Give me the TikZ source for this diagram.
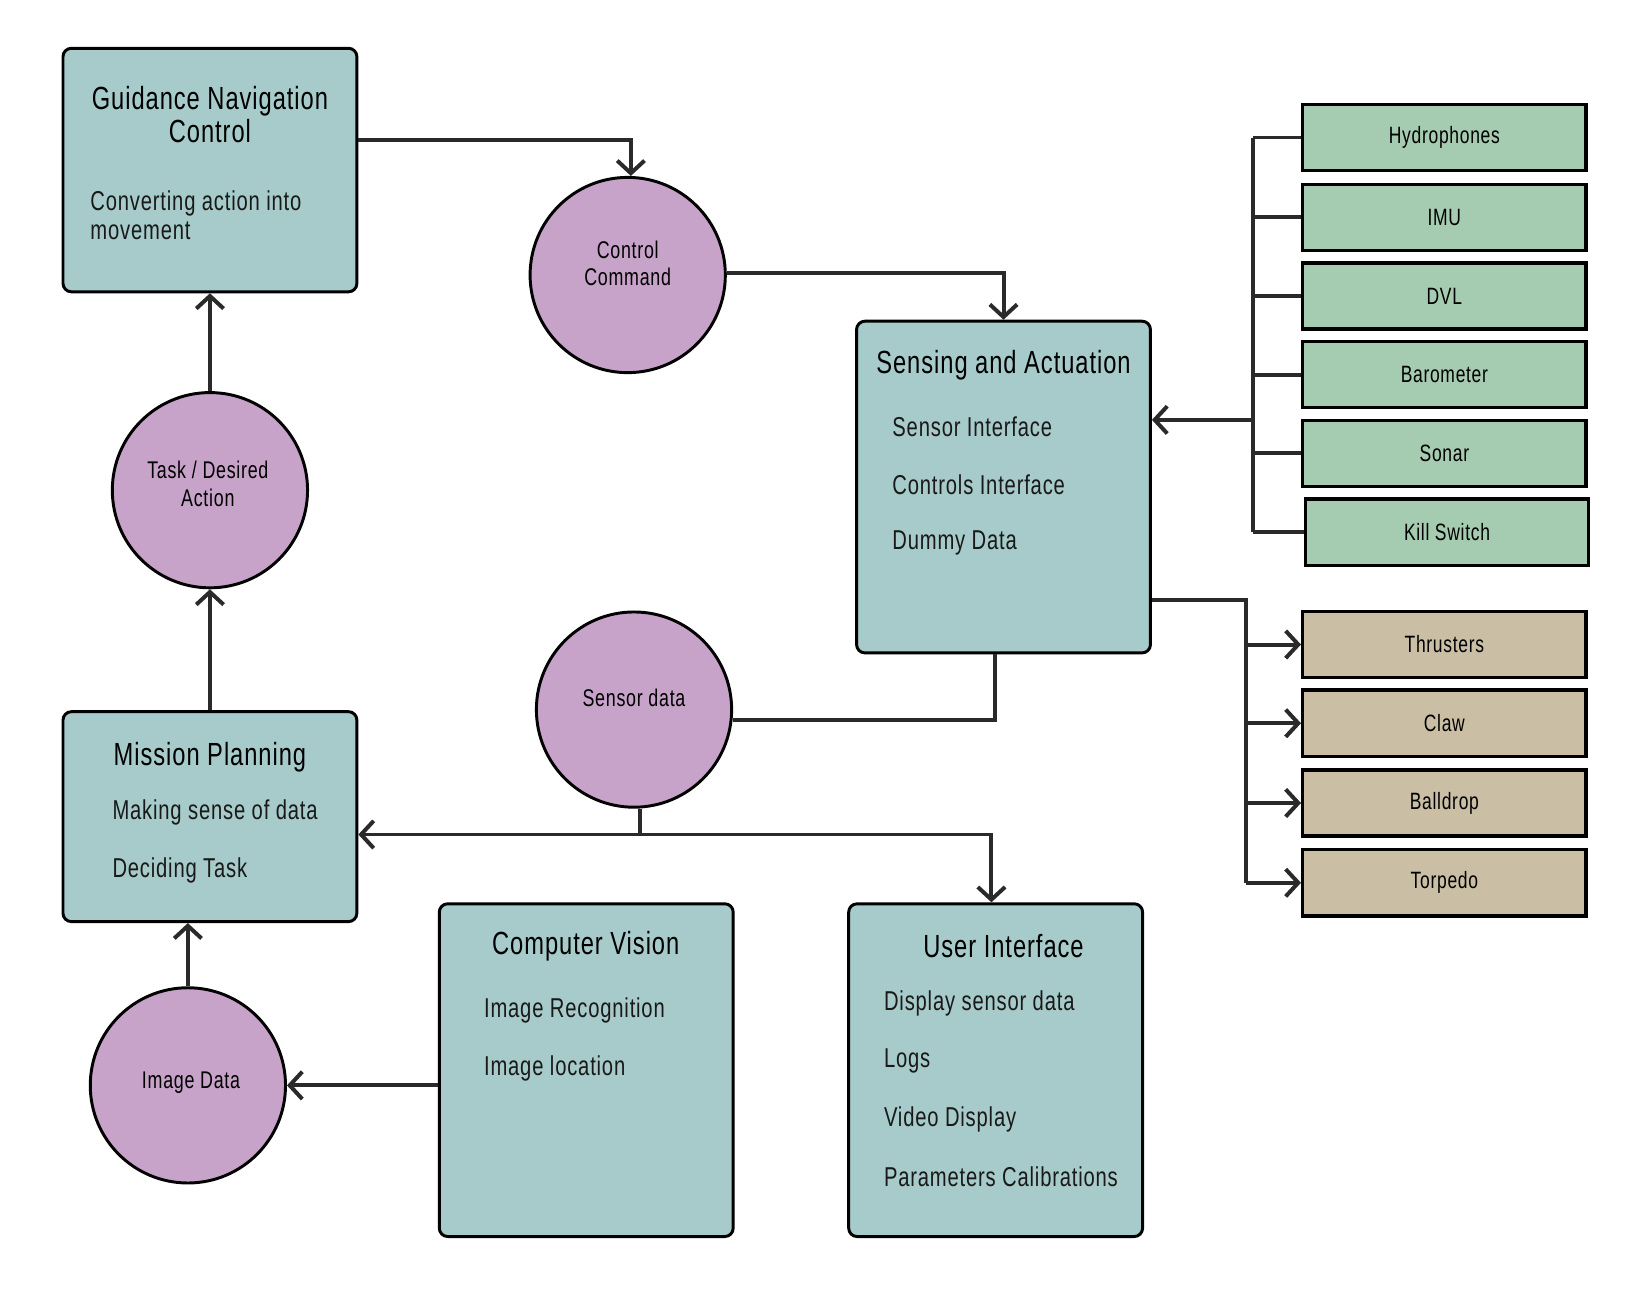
\documentclass[tikz,border=0pt]{standalone}
\usepackage{fontspec}
\setmainfont[FakeStretch=0.74,LetterSpace=3]{Liberation Sans}
\usetikzlibrary{arrows.meta}
\usetikzlibrary{positioning}

\definecolor{teal}{RGB}{166,203,202}
\definecolor{plum}{RGB}{200,163,201}
\definecolor{sage}{RGB}{165,203,176}
\definecolor{sand}{RGB}{202,191,165}
\definecolor{ink}{RGB}{42,42,42}

\begin{document}
\begin{tikzpicture}[x=1pt,y=-1pt,
  block/.style={draw=black,line width=2.8pt,rounded corners=8pt,fill=teal,minimum width=280pt,inner sep=0pt},
  bubble/.style={circle,draw=black,line width=2.8pt,fill=plum,minimum size=186pt,inner sep=0pt},
  bubtext/.style={font=\fontsize{23}{26}\selectfont,align=center,inner sep=0pt},
  sensorbox/.style={draw=black,line width=3.2pt,fill=sage,minimum width=270pt,minimum height=63pt,inner sep=0pt,font=\fontsize{22.5}{26}\selectfont},
  actbox/.style={sensorbox,fill=sand},
  title/.style={font=\fontsize{30.5}{32}\selectfont,align=center,text=black},
  item/.style={anchor=west,font=\fontsize{26}{28}\selectfont,align=left,inner sep=0pt,text=black!90},
  conn/.style={draw=ink,line width=3.8pt},
  tip/.style={-{Straight Barb[length=12pt,width=26pt]}}]
\useasboundingbox (0,0) rectangle (1570,1230);

%Blocks
\node [block,minimum height=232pt] (gnc) at (200,162) {};
\node [block,minimum height=316pt] (sa) at (956,464) {};
\node [block,minimum height=200pt] (mp) at (200,778) {};
\node [block,minimum height=317pt] (cv) at (558.5,1019.5) {};
\node [block,minimum height=317pt] (ui) at (948.5,1019.5) {};

%Data bubbles
\node [bubble] (cc) at (598,262) {};
\node [bubble] (task) at (200,467) {};
\node [bubble] (sd) at (604,676) {};
\node [bubble] (img) at (179,1034) {};
\node [bubtext] (cct) at (598,251) {Control\\Command};
\node [bubtext] (taskt) at (198,461) {Task / Desired\\Action};
\node [bubtext] (sdt) at (604,665) {Sensor data};
\node [bubtext] (imgt) at (182,1031) {Image Data};

%Sensors
\node [sensorbox] (hyd) at (1376,131) {Hydrophones};
\node [sensorbox] (imu) at (1376,207) {IMU};
\node [sensorbox] (dvl) at (1376,282) {DVL};
\node [sensorbox] (baro) at (1376,357) {Barometer};
\node [sensorbox] (sonar) at (1376,432) {Sonar};
\node [sensorbox] (kill) at (1378.5,507) {Kill Switch};

%Actuators
\node [actbox] (thr) at (1376,614) {Thrusters};
\node [actbox] (claw) at (1376,689) {Claw};
\node [actbox] (ball) at (1376,765) {Balldrop};
\node [actbox] (torp) at (1376,841) {Torpedo};

%Text in blocks
\node [title] (gnct) at (200,109) {Guidance Navigation\\Control};
\node [item] (gnc1) at (86,205) {Converting action into\\movement};
\node [title] (sat) at (956,348) {Sensing and Actuation};
\node [item] (sa1) at (850,407) {Sensor Interface};
\node [item] (sa2) at (850,462) {Controls Interface};
\node [item] (sa3) at (850,517) {Dummy Data};
\node [title] (mpt) at (200,721) {Mission Planning};
\node [item] (mp1) at (107,774) {Making sense of data};
\node [item] (mp2) at (107,829) {Deciding Task};
\node [title] (cvt) at (558,901) {Computer Vision};
\node [item] (cv1) at (461,963) {Image Recognition};
\node [item] (cv2) at (461,1018) {Image location};
\node [title] (uit) at (956,901) {User Interface};
\node [item] (ui1) at (842,956) {Display sensor data};
\node [item] (ui2) at (842,1011) {Logs};
\node [item] (ui3) at (842,1066) {Video Display};
\node [item] (ui4) at (842,1121) {Parameters Calibrations};

%Bus points
\coordinate (sbus) at (1194,400);
\coordinate (abus) at (1187,572);
\coordinate (split) at (610,795);

%Connectors
\draw [conn,tip] ([yshift=29pt]gnc.east) -| ([xshift=3pt]cc.north);
\draw [conn,tip] ([yshift=2pt]cc.east) -| (sa.north);
\draw [conn] (hyd.west -| sbus) -- (kill.west -| sbus);
\foreach \s in {hyd,imu,dvl,baro,sonar,kill}
  \draw [conn] (\s.west -| sbus) -- (\s.west);
\draw [conn,tip] (sbus) -- (sa.east |- sbus);
\draw [conn] (sa.east |- abus) -- (abus) -- (abus |- torp.west);
\foreach \a in {thr,claw,ball,torp}
  \draw [conn,tip] (abus |- \a.west) -- (\a.west);
\draw [conn] ([xshift=-8pt]sa.south) |- ([yshift=-10pt]sd.east);
\draw [conn] (sd.south -| split) -- (split);
\draw [conn,tip] (split) -- (mp.east |- split);
\draw [conn,tip] (split) -| ([xshift=-4pt]ui.north);
\draw [conn,tip] (mp.north) -- (task.south);
\draw [conn,tip] (task.north) -- (gnc.south);
\draw [conn,tip] (img.north) -- (img.north |- mp.south);
\draw [conn,tip] (cv.west |- img.east) -- (img.east);

\end{tikzpicture}
\end{document}
